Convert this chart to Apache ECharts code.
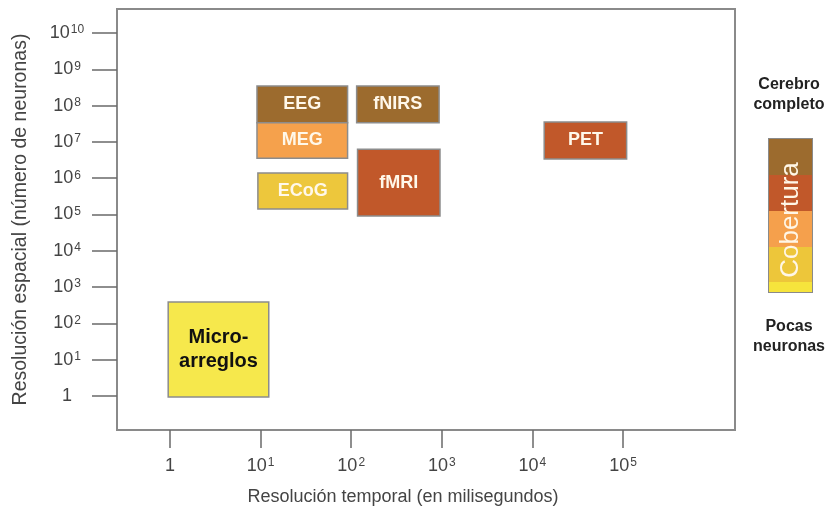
<!DOCTYPE html>
<html>
<head>
<meta charset="utf-8">
<script src="https://cdn.jsdelivr.net/npm/echarts@6/dist/echarts.min.js"></script>
<style>html,body{margin:0;padding:0;background:#fff}#c{width:833px;height:512px}</style>
</head>
<body>
<div id="c"></div>
<script>
// Techniques: temporal resolution (log10 ms) and spatial resolution (log10 neurons)
const techniques = ['EEG', 'MEG', 'ECoG', 'fNIRS', 'fMRI', 'PET', 'Micro-\narreglos'];
const tempMinLog = [0.96, 0.96, 0.97, 2.06, 2.07, 4.13, -0.02];
const tempMaxLog = [1.96, 1.96, 1.96, 2.97, 2.98, 5.04, 1.09];
const spatMinLog = [7.53, 6.55, 5.15, 7.53, 4.96, 6.53, -0.03];
const spatMaxLog = [8.54, 7.53, 6.14, 8.54, 6.80, 7.55, 2.59];
const techColors = ['#9c6b2e', '#f5a14c', '#edc73c', '#9c6b2e', '#c1582a', '#c1582a', '#f6e84c'];
const techTextColors = ['#fff8ea', '#fff8ea', '#fff8ea', '#fff8ea', '#fff8ea', '#fff8ea', '#111111'];

// Axis tick exponents and axis extents (log10 units)
const xTickExps = [0, 1, 2, 3, 4, 5];
const yTickExps = [0, 1, 2, 3, 4, 5, 6, 7, 8, 9, 10];
const xExtent = [-0.585, 6.236];
const yExtent = [-0.937, 10.661];

// Coverage scale (bottom to top)
const coverageSegments = [10, 35, 36, 36, 36];
const coverageColors = ['#f6e43c', '#edc63a', '#f5a04c', '#c1582a', '#9c6b2e'];

const FONT = 'Liberation Sans, Arial, Helvetica, sans-serif';

function expLabel(v) {
  const e = Math.round(v);
  if (e === 0) return '{n|1}';
  return '{n|10}{s|' + e + '}';
}
const richLab = {
  n: { fontSize: 18, fontFamily: FONT, color: '#444' },
  s: { fontSize: 12, fontFamily: FONT, color: '#444', verticalAlign: 'top', padding: [0, 0, 0, 1] }
};

const boxData = techniques.map((t, i) => [tempMinLog[i], tempMaxLog[i], spatMinLog[i], spatMaxLog[i]]);

const chart = echarts.init(document.getElementById('c'), null, { renderer: 'canvas' });

const coverageSeries = coverageSegments.map((v, i) => ({
  type: 'bar', xAxisIndex: 1, yAxisIndex: 1, stack: 'cov', barWidth: '100%',
  data: [v], itemStyle: { color: coverageColors[i] }, silent: true, z: 2
}));

chart.setOption({
  animation: false,
  grid: [
    { left: 117, top: 9, width: 618, height: 421, show: true, borderColor: '#8a8a8a', borderWidth: 2, backgroundColor: 'transparent' },
    { left: 769, top: 139, width: 43, height: 153, show: true, borderColor: '#8a8a8a', borderWidth: 2 }
  ],
  xAxis: [
    {
      gridIndex: 0, type: 'value', min: xExtent[0], max: xExtent[1],
      axisLine: { show: false, onZero: false },
      axisTick: { show: true, length: 18, customValues: xTickExps, lineStyle: { color: '#6a6a6a', width: 1.5 } },
      splitLine: { show: false },
      axisLabel: { margin: 27, customValues: xTickExps, formatter: expLabel, rich: richLab, showMinLabel: true, showMaxLabel: true },
      name: 'Resolución temporal (en milisegundos)', nameLocation: 'middle', nameGap: 58,
      nameTextStyle: { fontSize: 18, fontFamily: FONT, color: '#444', padding: [0, 46, 0, 0] }
    },
    { gridIndex: 1, type: 'category', data: ['c'], show: false }
  ],
  yAxis: [
    {
      gridIndex: 0, type: 'value', min: yExtent[0], max: yExtent[1],
      axisLine: { show: false, onZero: false },
      axisTick: { show: true, length: 25, customValues: yTickExps, lineStyle: { color: '#6a6a6a', width: 1.5 } },
      splitLine: { show: false },
      axisLabel: { margin: 50, align: 'center', customValues: yTickExps, formatter: expLabel, rich: richLab, showMinLabel: true, showMaxLabel: true },
      name: 'Resolución espacial (número de neuronas)', nameLocation: 'middle', nameGap: 86,
      nameRotate: 90,
      nameTextStyle: { fontSize: 19.5, fontFamily: FONT, color: '#444' }
    },
    { gridIndex: 1, type: 'value', show: false, min: 0, max: 153 }
  ],
  series: [
    {
      type: 'custom', xAxisIndex: 0, yAxisIndex: 0, clip: false, z: 3,
      data: boxData,
      encode: { x: [0, 1], y: [2, 3] },
      renderItem: function (params, api) {
        const i = params.dataIndex;
        const p0 = api.coord([api.value(0), api.value(3)]);
        const p1 = api.coord([api.value(1), api.value(2)]);
        const isMicro = i === 6;
        return {
          type: 'rect',
          shape: { x: p0[0], y: p0[1], width: p1[0] - p0[0], height: p1[1] - p0[1] },
          style: { fill: techColors[i], stroke: '#8c8c8c', lineWidth: 1.5 },
          textContent: {
            style: {
              text: techniques[i], fill: techTextColors[i],
              font: 'bold ' + (isMicro ? 20 : 18) + 'px ' + FONT,
              align: 'center', verticalAlign: 'middle', lineHeight: isMicro ? 24 : 20
            }
          },
          textConfig: { position: 'inside' }
        };
      }
    }
  ].concat(coverageSeries),
  graphic: [
    { type: 'text', x: 791, y: 220, rotation: Math.PI / 2, z: 10,
      style: { text: 'Cobertura', font: '26px ' + FONT, fill: '#fff6e6', align: 'center', verticalAlign: 'middle' } },
    { type: 'text', x: 789, y: 95, z: 10,
      style: { text: 'Cerebro\ncompleto', font: 'bold 16px ' + FONT, fill: '#222', align: 'center', verticalAlign: 'middle', lineHeight: 20 } },
    { type: 'text', x: 789, y: 337, z: 10,
      style: { text: 'Pocas\nneuronas', font: 'bold 16px ' + FONT, fill: '#222', align: 'center', verticalAlign: 'middle', lineHeight: 20 } }
  ]
});
</script>
</body>
</html>
